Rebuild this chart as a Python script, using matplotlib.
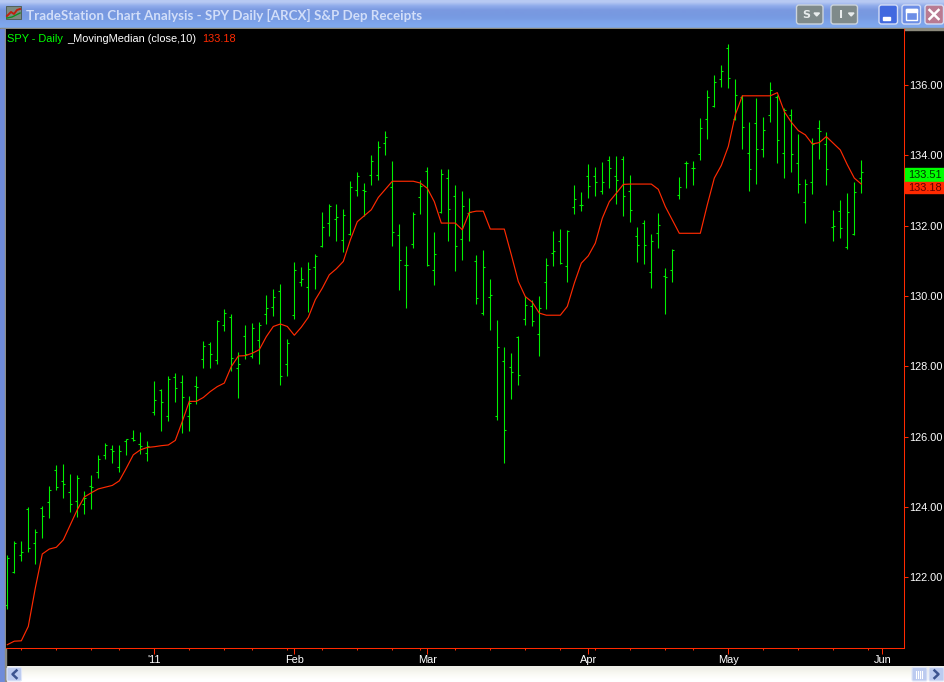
import numpy as np
import matplotlib
matplotlib.use("Agg")
import matplotlib.pyplot as plt
from matplotlib.patches import Rectangle, FancyBboxPatch, Polygon

# SPY daily bars
highs = [122.64,123.03,123.03,123.99,123.37,124.03,124.60,125.20,125.22,124.94,
         124.91,124.46,124.91,125.48,125.82,125.76,125.76,125.93,126.19,126.13,
         125.88,127.58,127.35,127.73,127.81,127.75,127.16,127.73,128.72,128.69,
         129.32,129.63,129.49,128.41,129.18,129.23,129.26,130.03,130.20,130.34,
         128.78,130.97,130.83,130.97,131.19,132.39,132.62,132.62,132.47,133.27,
         133.53,133.21,134.01,134.41,134.69,133.84,132.05,131.42,132.39,133.30,
         133.67,131.82,133.61,133.61,133.16,132.99,132.79,131.17,131.31,130.48,
         129.32,128.55,128.38,128.86,130.00,129.89,130.00,131.08,131.85,131.91,
         131.88,133.16,132.96,133.75,133.67,133.81,133.98,133.98,133.98,133.44,
         131.96,132.16,131.76,132.36,130.80,131.34,133.38,133.84,133.84,135.06,
         135.86,136.28,136.57,137.17,136.17,135.72,134.95,135.63,135.09,136.09,
         135.72,135.35,135.32,134.61,133.33,134.49,135.01,134.66,132.45,132.73,
         132.93,133.24,133.87]
lows = [121.10,122.11,122.47,122.72,122.38,123.12,123.69,124.48,124.26,123.86,
        123.72,123.80,123.94,124.83,125.37,125.25,125.00,125.48,125.88,125.51,
        125.31,126.62,126.16,126.43,126.99,126.11,126.16,126.93,127.95,127.95,
        128.07,129.01,127.87,127.10,128.21,128.24,128.07,129.20,129.43,127.47,
        127.73,129.35,130.29,129.55,130.20,131.39,131.71,131.57,131.25,131.74,
        132.84,132.28,133.16,133.30,134.01,131.42,130.17,129.66,131.37,132.33,
        130.85,130.31,132.36,131.57,130.71,131.03,131.57,129.77,129.46,129.03,
        126.47,125.25,127.07,127.47,129.18,129.15,128.29,129.63,130.85,130.91,
        130.40,132.33,132.42,132.79,132.84,132.90,133.07,132.62,132.28,132.11,
        130.97,130.91,130.23,131.37,129.49,130.40,132.76,133.07,133.16,133.87,
        134.47,135.37,135.94,135.92,135.01,134.18,132.99,133.19,133.95,134.95,
        133.78,133.36,133.53,132.93,132.08,132.90,133.90,133.16,131.56,131.65,
        131.34,131.74,132.93]
opens = [121.20,122.14,122.62,123.93,122.97,123.96,124.13,125.04,124.74,124.42,
         124.17,124.08,124.60,124.99,125.47,125.64,125.13,125.87,125.95,125.78,
         125.53,126.69,127.33,126.57,127.69,127.55,126.57,127.43,128.20,128.63,
         128.17,129.17,129.39,127.94,128.85,128.29,128.74,129.48,129.68,130.13,
         128.06,129.45,130.39,130.25,130.82,131.41,132.07,132.18,131.58,131.77,
         133.01,133.01,133.43,133.43,134.34,133.09,131.73,130.87,131.47,132.81,
         133.55,130.73,132.38,133.35,132.84,131.61,132.37,130.99,129.50,129.96,
         126.58,128.14,127.97,128.83,129.34,129.71,128.91,130.39,131.21,131.56,
         130.85,132.52,132.58,133.40,133.40,132.98,133.86,133.40,133.89,132.98,
         131.70,132.07,130.67,131.78,130.56,130.73,132.86,133.77,133.63,134.03,
         135.02,135.39,136.16,137.04,135.02,135.67,134.06,134.91,134.17,135.14,
         135.65,134.06,135.14,133.77,132.66,133.23,134.77,134.31,131.95,132.41,
         131.38,131.75,133.35]
closes = [122.54,122.98,122.73,122.83,123.28,123.74,124.47,124.56,124.65,124.08,
          124.83,124.25,124.56,125.36,125.75,125.58,125.58,125.93,125.90,125.73,
          125.73,127.03,126.98,127.63,127.38,127.12,126.95,127.40,128.57,128.34,
          129.28,129.51,128.23,128.06,128.34,129.08,129.17,129.65,129.96,127.72,
          128.65,130.73,130.47,130.76,131.13,131.95,132.55,132.24,132.29,133.09,
          133.40,132.99,133.83,134.23,134.51,131.81,131.02,130.89,132.32,133.12,
          130.89,131.19,133.46,132.47,131.41,132.55,132.38,129.94,130.82,130.02,
          128.54,126.18,127.83,127.75,129.74,129.28,129.65,130.88,131.27,130.94,
          131.84,132.75,132.58,133.12,133.23,133.23,133.63,133.29,132.84,132.44,
          131.44,131.44,131.56,132.01,130.53,131.30,133.09,133.77,133.63,134.77,
          135.65,136.08,136.39,136.19,135.71,134.80,133.60,134.17,134.71,135.85,
          134.43,135.28,134.03,133.18,133.18,134.31,134.68,133.60,132.00,131.92,
          132.38,132.95,133.51]
moving_median = [120.08,120.18,120.19,120.60,121.69,122.66,122.80,122.85,123.06,123.49,
                 123.92,124.28,124.40,124.51,124.56,124.61,124.74,125.10,125.48,125.62,
                 125.69,125.71,125.74,125.76,125.89,126.43,127.00,127.00,127.11,127.28,
                 127.42,127.52,127.99,128.29,128.30,128.37,128.47,128.84,129.13,129.20,
                 129.13,128.88,129.11,129.39,129.89,130.22,130.60,130.77,130.98,131.59,
                 132.11,132.28,132.45,132.80,133.03,133.26,133.26,133.26,133.26,133.21,
                 133.06,132.68,132.07,132.07,132.07,131.88,132.37,132.41,132.41,131.90,
                 131.90,131.90,131.17,130.41,129.98,129.82,129.51,129.45,129.45,129.45,
                 129.70,130.36,130.93,131.14,131.50,132.21,132.68,132.92,133.17,133.18,
                 133.18,133.18,133.18,133.03,132.54,132.16,131.78,131.78,131.78,131.78,
                 132.59,133.35,133.71,134.25,135.15,135.69,135.69,135.69,135.69,135.69,
                 135.78,135.24,134.94,134.70,134.58,134.32,134.36,134.53,134.34,134.15,
                 133.73,133.35,133.18]

price_ticks = [122, 124, 126, 128, 130, 132, 134, 136]
month_pos = [21, 41, 60, 83, 103, 125]
month_labels = ["'11", "Feb", "Mar", "Apr", "May", "Jun"]
week_pos = [2, 7, 12, 16, 26, 31, 35, 40, 45, 50, 55, 59, 64, 69, 74, 79, 84, 89, 94, 98,
            108, 113, 118, 123]

GREEN = "#00f000"
RED = "#ff2a00"
W, H = 945, 682

plt.rcParams["font.family"] = ["Liberation Sans", "DejaVu Sans"]
fig = plt.figure(figsize=(W / 100, H / 100), dpi=100, facecolor="black")

# window frame, in pixels
chrome = fig.add_axes([0, 0, 1, 1])
chrome.set_xlim(0, W)
chrome.set_ylim(H, 0)
chrome.axis("off")

title_grad = np.array([[0.72, 0.79, 0.95], [0.56, 0.67, 0.92], [0.48, 0.60, 0.88], [0.47, 0.60, 0.88],
                       [0.47, 0.61, 0.89], [0.49, 0.64, 0.92], [0.50, 0.66, 0.93]]).reshape(-1, 1, 3)
chrome.imshow(title_grad, extent=[0, W, 28, 0], aspect="auto", interpolation="bilinear", zorder=1)
chrome.add_patch(Rectangle((0, 28), W, 1.5, color="#8c8a7c", zorder=2))
chrome.add_patch(Rectangle((0, 29), 4.5, H - 29, color="#6f8bd9", zorder=2))
chrome.add_patch(Rectangle((4.5, 29), 1.5, H - 29, color="#8c8c84", zorder=2))
scroll_grad = np.array([[0.94, 0.94, 0.91], [0.98, 0.98, 0.96], [1, 1, 1]]).reshape(-1, 1, 3)
chrome.imshow(scroll_grad, extent=[6, W, H, 666], aspect="auto", interpolation="bilinear", zorder=1)
chrome.set_xlim(0, W)
chrome.set_ylim(H, 0)

# title icon
chrome.add_patch(Rectangle((6, 6), 15, 13, facecolor="#7c8a80", edgecolor="#50605a", lw=0.7, zorder=3))
chrome.plot([7, 11, 14, 17, 20], [16, 12, 14, 10, 9], color="#c02010", lw=1.4, zorder=4)
chrome.plot([7, 12, 20], [18, 17, 13], color="#109020", lw=1.0, zorder=4)

chrome.text(26, 15, "TradeStation Chart Analysis - SPY Daily [ARCX] S&P Dep Receipts",
            family="Lato", weight="bold", fontsize=9.68, color="#d2def9", va="center", ha="left", zorder=5)

# S and I buttons
for x0, letter in [(796.5, "S"), (831, "I")]:
    chrome.add_patch(FancyBboxPatch((x0, 5), 26.5, 19, boxstyle="round,pad=0,rounding_size=2.5",
                                    facecolor="#7f8a8a", edgecolor="#ccd4dc", lw=1, zorder=3))
    chrome.text(x0 + 9.5, 14.8, letter, color="#e8ecec", family="DejaVu Sans", weight="bold",
                fontsize=8, ha="center", va="center", zorder=5)
    chrome.add_patch(Polygon([(x0 + 17.5, 13), (x0 + 23, 13), (x0 + 20.2, 16)], color="#e8ecec", zorder=5))

# window buttons
for x0, col in [(879, "#4169df"), (902, "#6c8ee6"), (925, "#b97b92")]:
    chrome.add_patch(FancyBboxPatch((x0, 5), 18.5, 19, boxstyle="round,pad=0,rounding_size=2.5",
                                    facecolor=col, edgecolor="#d4ddf5", lw=1, zorder=3))
chrome.add_patch(Rectangle((883, 17), 7, 3, color="white", zorder=5))
chrome.add_patch(Rectangle((906, 9), 10.5, 10.5, fill=False, edgecolor="white", lw=1, zorder=5))
chrome.add_patch(Rectangle((906, 9), 10.5, 2.5, color="white", zorder=5))
chrome.plot([929.5, 938.5], [10, 19], color="white", lw=1.8, zorder=5)
chrome.plot([929.5, 938.5], [19, 10], color="white", lw=1.8, zorder=5)

# scroll bar buttons
for x0, w0 in [(7, 14.5), (912, 15), (929, 15)]:
    chrome.add_patch(FancyBboxPatch((x0, 667.5), w0, 13.5, boxstyle="round,pad=0,rounding_size=1.5",
                                    facecolor="#bccbf0", edgecolor="#dfe6f8", lw=0.8, zorder=3))
chrome.plot([16.5, 12.5, 16.5], [670.5, 674.2, 678], color="#3c5490", lw=1.8, zorder=5)
chrome.plot([934.5, 938.5, 934.5], [670.5, 674.2, 678], color="#3c5490", lw=1.8, zorder=5)
for xg in [916, 918, 920, 922]:
    chrome.plot([xg, xg], [671, 678], color="#ffffff", lw=0.8, zorder=5)

# price pane
left, right, top, bottom = 6, 904.5, 29, 647.5
ax = fig.add_axes([left / W, 1 - bottom / H, (right - left) / W, (bottom - top) / H], facecolor="black")

idx = np.arange(len(closes))
ax.vlines(idx, lows, highs, color=GREEN, lw=0.78, snap=True, zorder=2)
ax.hlines(opens, idx - 0.28, idx, color=GREEN, lw=0.78, snap=True, zorder=2)
ax.hlines(closes, idx, idx + 0.28, color=GREEN, lw=0.78, snap=True, zorder=2)
ax.plot(idx, moving_median, color=RED, lw=0.85, zorder=3)

ax.set_xlim(-0.186, 128.17)
ax.set_ylim(120.0, 137.59)

for side in ["left", "top"]:
    ax.spines[side].set_visible(False)
for side in ["right", "bottom"]:
    ax.spines[side].set_color(RED)
    ax.spines[side].set_linewidth(0.75)

ax.yaxis.tick_right()
ax.set_yticks(price_ticks)
ax.set_yticklabels(["%.2f" % p for p in price_ticks])
ax.tick_params(axis="y", length=3, width=0.75, color=RED, labelcolor="white", labelsize=7.9, pad=0)

ax.set_xticks(month_pos)
ax.set_xticklabels(month_labels)
ax.set_xticks(week_pos, minor=True)
ax.tick_params(axis="x", which="major", length=4.5, width=0.75, color=RED, labelcolor="white",
               labelsize=7.9, pad=0.8)
ax.tick_params(axis="x", which="minor", length=1.7, width=0.75, color=RED)

# last value flags on the price scale, pushed apart so both stay readable
trans = ax.get_yaxis_transform()
ax.add_patch(Rectangle((1.0005, closes[-1] - 0.27), 0.05, 0.40, transform=trans, color="#00ff00", clip_on=False, zorder=5))
ax.add_patch(Rectangle((1.0005, moving_median[-1] - 0.26), 0.05, 0.32, transform=trans, color=RED, clip_on=False, zorder=5))
ax.text(1.004, closes[-1] - 0.07, "%.2f" % closes[-1], transform=trans, color="#003000", fontsize=7.9,
        va="center", ha="left", clip_on=False, zorder=6)
ax.text(1.004, moving_median[-1] - 0.11, "%.2f" % moving_median[-1], transform=trans, color="#600000", fontsize=7.9,
        va="center", ha="left", clip_on=False, zorder=6)

# legend line
ax.text(1 / 898, 0.9845, "SPY - Daily", transform=ax.transAxes, color="#00ff00", fontsize=7.9, va="center")
ax.text(61 / 898, 0.9845, "_MovingMedian (close,10)", transform=ax.transAxes, color="white", fontsize=7.9, va="center")
ax.text(196 / 898, 0.9845, "%.2f" % moving_median[-1], transform=ax.transAxes, color=RED, fontsize=7.9, va="center")

fig.savefig("out.png", dpi=100, facecolor="black")
